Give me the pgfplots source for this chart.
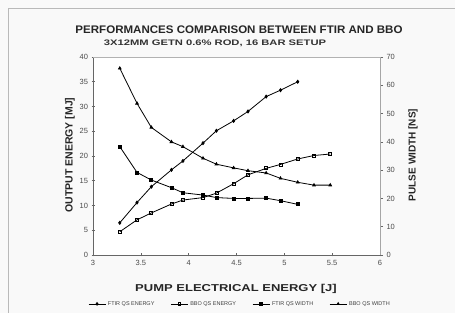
\documentclass[border=0pt]{standalone}
\usepackage{fontspec}
\setmainfont{Liberation Sans}
\usepackage{pgfplots}
\pgfplotsset{compat=1.18}
\pgfplotstableread{
x y
3.28 6.5
3.46 10.6
3.61 13.8
3.82 17.2
3.94 19.0
4.15 22.6
4.29 25.1
4.47 27.1
4.62 29.0
4.81 32.0
4.96 33.3
5.14 35.0
}\ftirE
\pgfplotstableread{
x y
3.28 4.7
3.46 7.1
3.61 8.5
3.82 10.3
3.94 11.1
4.15 11.6
4.29 12.5
4.47 14.4
4.62 16.2
4.81 17.5
4.96 18.3
5.14 19.4
5.31 20.1
5.48 20.4
}\bboE
\pgfplotstableread{
x y
3.28 38.3
3.46 29.2
3.61 26.5
3.82 23.8
3.94 22.0
4.15 21.2
4.29 20.3
4.47 20.0
4.62 20.0
4.81 20.1
4.96 19.2
5.14 17.9
}\ftirW
\pgfplotstableread{
x y
3.28 66.0
3.46 53.6
3.61 45.1
3.82 40.0
3.94 38.3
4.15 34.2
4.29 32.1
4.47 30.8
4.62 29.8
4.81 29.0
4.96 27.1
5.14 25.7
5.31 24.7
5.48 24.7
}\bboW
\begin{document}
\begin{tikzpicture}
\useasboundingbox (0pt,0pt) rectangle (455pt,313pt);
\fill[gray!5] (0pt,0pt) rectangle (455pt,313pt);
\draw[gray!55, line width=1.2pt] (8.5pt,0pt) -- (8.5pt,304.5pt) -- (455pt,304.5pt);
\begin{axis}[
  name=main,
  at={(93pt,58pt)}, anchor=south west, scale only axis,
  width=287pt, height=198pt,
  xmin=3, xmax=6, ymin=0, ymax=40,
  xtick={3,3.5,4,4.5,5,5.5,6},
  xticklabels={3,3.5,4,4.5,5,5.5,6},
  ytick={0,5,...,40},
  axis y line*=left, axis x line*=bottom,
  axis line style={gray!80!black, line width=0.7pt},
  tick style={gray!80!black, line width=0.5pt},
  tick align=center, major tick length=3pt,
  tick label style={font=\fontsize{7.5}{8}\selectfont, text=black!70},
  /pgf/number format/assume math mode=true,
  axis background/.style={fill=white},
  every axis plot/.append style={line width=0.8pt, black, mark size=1.5pt},
]
\draw[gray!60, line width=0.7pt] (rel axis cs:0,1) -- (rel axis cs:1,1);
\addplot[mark=diamond*] table {\ftirE};
\addplot[mark=square, mark options={fill=white}] table {\bboE};
\end{axis}
\begin{axis}[
  at={(main.south west)}, anchor=south west, scale only axis,
  width=287pt, height=198pt,
  xmin=3, xmax=6, ymin=0, ymax=70,
  ytick={0,10,...,70},
  axis y line*=right, axis x line=none,
  axis line style={gray!70, line width=0.7pt},
  tick style={gray!80!black, line width=0.5pt},
  tick align=outside, major tick length=3pt,
  tick label style={font=\fontsize{7.5}{8}\selectfont, text=black!70},
  /pgf/number format/assume math mode=true,
  every axis plot/.append style={line width=0.8pt, black, mark size=1.5pt},
  legend columns=4,
  legend style={at={(0.512,-0.247)}, anchor=center, draw=none, fill=none,
    font=\fontsize{5.5}{6}\selectfont, text=black!75,
    /tikz/every even column/.append style={column sep=14pt}},
  legend image post style={mark size=1.3pt},
]
\addlegendimage{line width=0.8pt, black, mark=diamond*}
\addlegendentry{FTIR QS ENERGY}
\addlegendimage{line width=0.8pt, black, mark=square, mark options={fill=white}}
\addlegendentry{BBO QS ENERGY}
\addplot[mark=square*] table {\ftirW};
\addlegendentry{FTIR QS WIDTH}
\addplot[mark=triangle*] table {\bboW};
\addlegendentry{BBO QS WIDTH}
\end{axis}
\node[font=\bfseries\fontsize{11}{12}\selectfont, xscale=1.05, text=black!85] at (239pt,283pt) {PERFORMANCES COMPARISON BETWEEN FTIR AND BBO};
\node[font=\bfseries\fontsize{8}{9}\selectfont, xscale=1.4, text=black!80] at (215pt,270pt) {3X12MM GETN 0.6\% ROD, 16 BAR SETUP};
\node[font=\bfseries\fontsize{10}{11}\selectfont, xscale=1.3, text=black!85] at (236pt,24pt) {PUMP ELECTRICAL ENERGY [J]};
\node[font=\bfseries\fontsize{10.5}{12}\selectfont, rotate=90, text=black!85] at (70pt,158pt) {OUTPUT ENERGY [MJ]};
\node[font=\bfseries\fontsize{10}{12}\selectfont, rotate=90, text=black!85] at (413pt,158pt) {PULSE WIDTH [NS]};
\end{tikzpicture}
\end{document}
